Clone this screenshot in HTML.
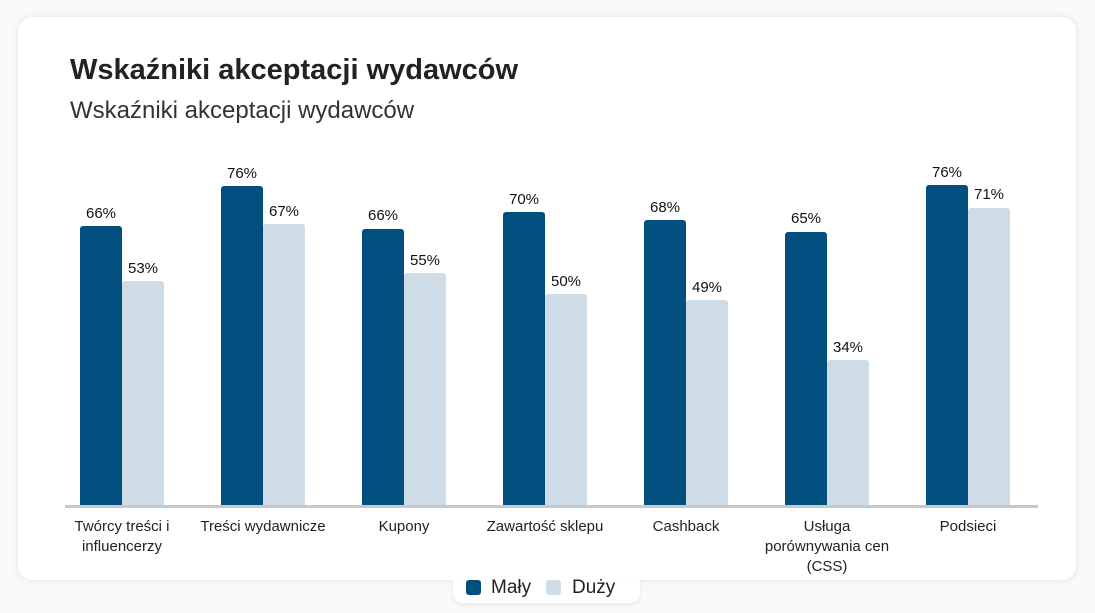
<!DOCTYPE html><html><head><meta charset="utf-8"><style>
body{margin:0;width:1095px;height:613px;background:#fafafa;font-family:"Liberation Sans",sans-serif;position:relative;overflow:hidden}
.card{position:absolute;left:18px;top:17px;width:1058px;height:563px;background:#fff;border-radius:14px;box-shadow:0 0 8px rgba(0,0,0,.1)}
.t{position:absolute;left:70px;top:54px;font-size:29px;font-weight:bold;color:#222}
.s{position:absolute;left:70px;top:97px;font-size:24px;color:#333}
.b{position:absolute;width:42px;border-radius:3px 3px 0 0}
.d{background:#004f7f}.l{background:#cddce6}
.v{position:absolute;width:42px;text-align:center;font-size:15px;color:#111}
.ax{position:absolute;left:65px;top:505px;width:973px;height:3px;background:#c8c8c8}
.c{position:absolute;width:140px;text-align:center;font-size:15px;line-height:20px;color:#222;top:517px}
.lg{position:absolute;left:453px;top:578px;width:187px;height:25px;background:#fff;border-radius:0 0 10px 10px;box-shadow:0 2px 4px rgba(0,0,0,.08)}
.sq{position:absolute;top:2px;width:15px;height:15px;border-radius:3px}
.lt{position:absolute;top:-1px;font-size:19px;color:#222}
</style></head><body>
<div class="card"></div>
<div class="t">Wskaźniki akceptacji wydawców</div>
<div class="s">Wskaźniki akceptacji wydawców</div>

<div class="b d" style="left:80px;top:226px;height:280px"></div><div class="v" style="left:80px;top:205px">66%</div>
<div class="b l" style="left:122px;top:281px;height:225px"></div><div class="v" style="left:122px;top:260px">53%</div>
<div class="b d" style="left:221px;top:186px;height:320px"></div><div class="v" style="left:221px;top:165px">76%</div>
<div class="b l" style="left:263px;top:224px;height:282px"></div><div class="v" style="left:263px;top:203px">67%</div>
<div class="b d" style="left:362px;top:229px;height:277px"></div><div class="v" style="left:362px;top:207px">66%</div>
<div class="b l" style="left:404px;top:273px;height:233px"></div><div class="v" style="left:404px;top:252px">55%</div>
<div class="b d" style="left:503px;top:212px;height:294px"></div><div class="v" style="left:503px;top:191px">70%</div>
<div class="b l" style="left:545px;top:294px;height:212px"></div><div class="v" style="left:545px;top:273px">50%</div>
<div class="b d" style="left:644px;top:220px;height:286px"></div><div class="v" style="left:644px;top:199px">68%</div>
<div class="b l" style="left:686px;top:300px;height:206px"></div><div class="v" style="left:686px;top:279px">49%</div>
<div class="b d" style="left:785px;top:232px;height:274px"></div><div class="v" style="left:785px;top:210px">65%</div>
<div class="b l" style="left:827px;top:360px;height:146px"></div><div class="v" style="left:827px;top:339px">34%</div>
<div class="b d" style="left:926px;top:185px;height:321px"></div><div class="v" style="left:926px;top:164px">76%</div>
<div class="b l" style="left:968px;top:208px;height:298px"></div><div class="v" style="left:968px;top:186px">71%</div>

<div class="ax"></div>
<div class="c" style="left:52px">Twórcy treści i<br>influencerzy</div>
<div class="c" style="left:193px">Treści wydawnicze</div>
<div class="c" style="left:334px">Kupony</div>
<div class="c" style="left:475px">Zawartość sklepu</div>
<div class="c" style="left:616px">Cashback</div>
<div class="c" style="left:757px">Usługa<br>porównywania cen<br>(CSS)</div>
<div class="c" style="left:898px">Podsieci</div>

<div class="lg">
<div class="sq d" style="left:13px"></div><div class="lt" style="left:38px">Mały</div>
<div class="sq l" style="left:93px"></div><div class="lt" style="left:119px">Duży</div>
</div>
</body></html>
